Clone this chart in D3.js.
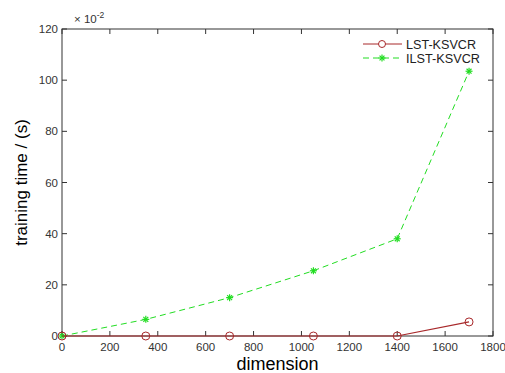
<!DOCTYPE html>
<html><head><meta charset="utf-8">
<script src="https://cdn.jsdelivr.net/npm/d3@7"></script>
<style>body{margin:0;background:#fff}svg{display:block}text{font-family:"Liberation Sans",Arial,sans-serif}</style>
</head><body><svg id="c" width="505" height="373"></svg>
<script>
const dims = [0, 350, 700, 1050, 1400, 1700];
const lst = [0, 0, 0, 0, 0, 5.5];
const ilst = [0, 6.5, 15, 25.5, 38, 103.5];
const xTicks = [0,200,400,600,800,1000,1200,1400,1600,1800];
const yTicks = [0,20,40,60,80,100,120];
const seriesNames = ["LST-KSVCR","ILST-KSVCR"];

const svg = d3.select("#c");
const L=62,R=493,T=29,B=336;
const x = d3.scaleLinear().domain([0,1800]).range([L,R]);
const y = d3.scaleLinear().domain([0,120]).range([B,T]);

svg.append("rect").attr("x",L).attr("y",T).attr("width",R-L).attr("height",B-T)
  .attr("fill","none").attr("stroke","#333").attr("stroke-width",1);

const tl=5;
const g = svg.append("g").attr("stroke","#333").attr("stroke-width",1);
xTicks.forEach(t=>{
  g.append("line").attr("x1",x(t)).attr("x2",x(t)).attr("y1",B).attr("y2",B-tl);
  g.append("line").attr("x1",x(t)).attr("x2",x(t)).attr("y1",T).attr("y2",T+tl);
});
yTicks.forEach(t=>{
  g.append("line").attr("x1",L).attr("x2",L+tl).attr("y1",y(t)).attr("y2",y(t));
  g.append("line").attr("x1",R).attr("x2",R-tl).attr("y1",y(t)).attr("y2",y(t));
});
svg.selectAll(".xt").data(xTicks).enter().append("text")
  .attr("x",d=>x(d)).attr("y",B+15).attr("text-anchor","middle")
  .attr("font-size",11.5).attr("fill","#333").text(d=>d);
svg.selectAll(".yt").data(yTicks).enter().append("text")
  .attr("x",L-4).attr("y",d=>y(d)+4).attr("text-anchor","end")
  .attr("font-size",11.5).attr("fill","#333").text(d=>d);

const ex = svg.append("text").attr("x",L+12).attr("y",T-6).attr("font-size",11.5).attr("fill","#333");
ex.append("tspan").text("\u00d7 10");
ex.append("tspan").attr("dy",-5).attr("font-size",8.5).text("-2");

svg.append("text").attr("x",(L+R)/2).attr("y",370).attr("text-anchor","middle")
  .attr("font-size",18).attr("fill","#000").text("dimension");
svg.append("text").attr("transform",`translate(27,${(T+B)/2}) rotate(-90)`)
  .attr("text-anchor","middle").attr("font-size",17).attr("fill","#000").text("training time / (s)");

const line = d3.line().x((d,i)=>x(dims[i])).y(d=>y(d));
const red="#a8282a", green="#22dd22";
svg.append("path").datum(ilst).attr("d",line).attr("fill","none")
  .attr("stroke",green).attr("stroke-width",1).attr("stroke-dasharray","6,4");
function star(gg,cx,cy,col){
  const s=3.5;
  [[-s,0,s,0],[0,-s,0,s],[-s*.7,-s*.7,s*.7,s*.7],[-s*.7,s*.7,s*.7,-s*.7]].forEach(a=>
    gg.append("line").attr("x1",cx+a[0]).attr("y1",cy+a[1]).attr("x2",cx+a[2]).attr("y2",cy+a[3])
      .attr("stroke",col).attr("stroke-width",1.2));
}
ilst.forEach((d,i)=>star(svg,x(dims[i]),y(d),green));
svg.append("path").datum(lst).attr("d",line).attr("fill","none")
  .attr("stroke",red).attr("stroke-width",1.2);
svg.selectAll(".rc").data(lst).enter().append("circle")
  .attr("cx",(d,i)=>x(dims[i])).attr("cy",d=>y(d)).attr("r",4)
  .attr("fill","none").attr("stroke",red).attr("stroke-width",1);

const lg = svg.append("g");
lg.append("rect").attr("x",360).attr("y",35).attr("width",128).attr("height",32).attr("fill","#fff");
const items=[{n:seriesNames[0],c:red,w:70},{n:seriesNames[1],c:green,w:74}];
items.forEach((it,i)=>{
  const yy=44+i*14;
  const ln=lg.append("line").attr("x1",363).attr("x2",402).attr("y1",yy).attr("y2",yy)
    .attr("stroke",it.c).attr("stroke-width",1);
  if(i===0){ lg.append("circle").attr("cx",382).attr("cy",yy).attr("r",3.5).attr("fill","#fff").attr("stroke",it.c); }
  else { ln.attr("stroke-dasharray","6,4"); star(lg,382,yy,it.c); }
  lg.append("text").attr("x",406).attr("y",yy+4.5).attr("font-size",12)
    .attr("textLength",it.w).attr("lengthAdjust","spacingAndGlyphs").attr("fill","#222").text(it.n);
});
</script></body></html>
